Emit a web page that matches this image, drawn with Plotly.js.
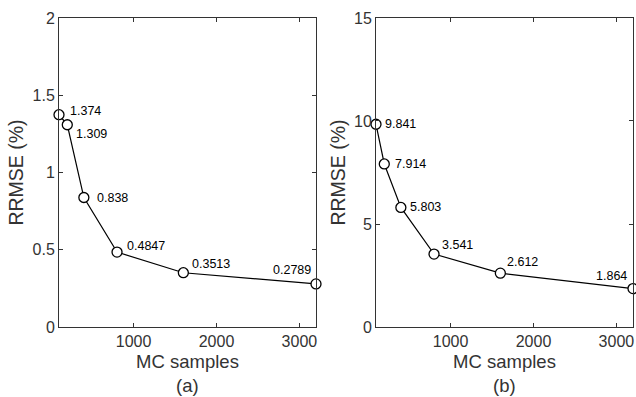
<!DOCTYPE html>
<html>
<head>
<meta charset="utf-8">
<script src="https://cdn.plot.ly/plotly-3.0.1.min.js"></script>
<style>html,body{margin:0;padding:0;background:#fff;}#chart{width:636px;height:397px;}</style>
</head>
<body>
<div id="chart"></div>
<script>
const samples = [100, 200, 400, 800, 1600, 3200];
const rrmseA = [1.374, 1.309, 0.838, 0.4847, 0.3513, 0.2789];
const rrmseB = [9.841, 7.914, 5.803, 3.541, 2.612, 1.864];
const labelsA = ['1.374', '1.309', '0.838', '0.4847', '0.3513', '0.2789'];
const labelsB = ['9.841', '7.914', '5.803', '3.541', '2.612', '1.864'];
const xTicks = [1000, 2000, 3000];
const yTicksA = [0, 0.5, 1, 1.5, 2];
const yTicksB = [0, 5, 10, 15];
const panelLabels = ['(a)', '(b)'];

// label placement offsets (px): [xanchor, xshift, yshift]
const offA = [['left', 9, 4], ['left', 7, -9], ['left', 11, 0], ['left', 8, 6], ['left', 7, 9], ['right', -3, 14]];
const offB = [['left', 7, 0], ['left', 9, 0], ['left', 7, 0], ['left', 6, 9], ['left', 5, 11], ['right', -4, 13]];

const axCol = '#333333';
const fontFam = 'Liberation Sans, Arial, sans-serif';

function trace(y, xa, ya) {
  return {
    x: samples, y: y, xaxis: xa, yaxis: ya, type: 'scatter', mode: 'lines+markers',
    line: {color: '#000', width: 1.2},
    marker: {symbol: 'circle', size: 10, color: '#fff', line: {color: '#000', width: 1.3}},
    cliponaxis: false, showlegend: false, hoverinfo: 'skip'
  };
}

function xaxisDef(dom, anchor) {
  return {
    domain: dom, anchor: anchor, range: [100, 3200], tickvals: xTicks, ticktext: xTicks.map(String),
    ticks: 'inside', ticklen: 4, tickcolor: axCol, tickwidth: 1,
    showline: true, linecolor: axCol, linewidth: 1, mirror: 'ticks', showgrid: false, zeroline: false,
    tickfont: {family: fontFam, size: 16, color: axCol},
    title: {text: 'MC samples', font: {family: fontFam, size: 18.5, color: axCol}, standoff: 5}
  };
}
function yaxisDef(range, ticks, anchor) {
  return {
    domain: [0.1763, 0.9547], anchor: anchor, range: range, tickvals: ticks, ticktext: ticks.map(String),
    ticks: 'inside', ticklen: 4, tickcolor: axCol, tickwidth: 1,
    showline: true, linecolor: axCol, linewidth: 1, mirror: 'ticks', showgrid: false, zeroline: false,
    tickfont: {family: fontFam, size: 16, color: axCol},
    title: {text: 'RRMSE (%)', font: {family: fontFam, size: 19.5, color: axCol}, standoff: 3}
  };
}

const annotations = [];
function addLabels(ys, labels, offs, xref, yref) {
  ys.forEach((v, i) => {
    annotations.push({
      x: samples[i], y: v, xref: xref, yref: yref, text: labels[i], showarrow: false,
      xanchor: offs[i][0], yanchor: 'middle', xshift: offs[i][1], yshift: offs[i][2],
      font: {family: fontFam, size: 12.5, color: '#000'}
    });
  });
}
addLabels(rrmseA, labelsA, offA, 'x', 'y');
addLabels(rrmseB, labelsB, offB, 'x2', 'y2');
annotations.push({x: (59 + 316) / 2 / 636, y: 1 - 385 / 397, xref: 'paper', yref: 'paper', yanchor: 'middle', xanchor: 'center',
  text: panelLabels[0], showarrow: false, font: {family: fontFam, size: 18.5, color: axCol}});
annotations.push({x: (376 + 633) / 2 / 636, y: 1 - 385 / 397, xref: 'paper', yref: 'paper', yanchor: 'middle', xanchor: 'center',
  text: panelLabels[1], showarrow: false, font: {family: fontFam, size: 18.5, color: axCol}});

const layout = {
  width: 636, height: 397, margin: {l: 0, r: 0, t: 0, b: 0},
  paper_bgcolor: '#fff', plot_bgcolor: '#fff',
  xaxis: xaxisDef([59 / 636, 316 / 636], 'y'),
  yaxis: yaxisDef([0, 2], yTicksA, 'x'),
  xaxis2: xaxisDef([376 / 636, 633 / 636], 'y2'),
  yaxis2: yaxisDef([0, 15], yTicksB, 'x2'),
  annotations: annotations
};

Plotly.newPlot('chart', [trace(rrmseA, 'x', 'y'), trace(rrmseB, 'x2', 'y2')], layout, {staticPlot: true, displayModeBar: false});
</script>
</body>
</html>
